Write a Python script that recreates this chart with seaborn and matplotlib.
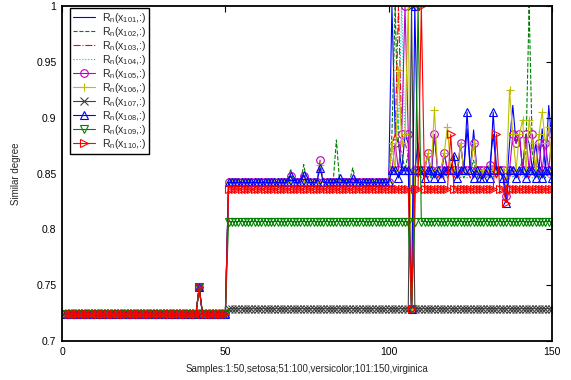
import matplotlib
matplotlib.use("Agg")
import matplotlib.pyplot as plt
import seaborn as sns
import pandas as pd

# ---------------- data ----------------
samples = list(range(1, 151))
x_ticks = [0, 50, 100, 150]
x_tick_labels = ["0", "50", "100", "150"]
y_ticks = [0.7, 0.75, 0.8, 0.85, 0.9, 0.95, 1.0]
y_tick_labels = ["0.7", "0.75", "0.8", "0.85", "0.9", "0.95", "1"]
series_ids = [101, 102, 103, 104, 105, 106, 107, 108, 109, 110]

# samples 1..50 (setosa): flat level with a bump at sample 42
setosa_level = 0.724
setosa_bump = {42: 0.748}
setosa_level_107 = 0.725

# samples 51..100 (versicolor): level per series + visible bumps
versi_level = {101: 0.842, 102: 0.842, 103: 0.842, 104: 0.842, 105: 0.842,
               106: 0.842, 107: 0.729, 108: 0.842, 109: 0.807, 110: 0.836}
versi_bumps = {
    102: {70: 0.854, 74: 0.858, 84: 0.880, 89: 0.855},
    105: {70: 0.848, 74: 0.848, 79: 0.862},
    106: {79: 0.858},
    108: {70: 0.848, 74: 0.849, 79: 0.855, 85: 0.846, 89: 0.846},
}

# samples 101..150 (virginica): values read per series
v101 = [1.000, 0.885, 0.877, 0.853, 0.885, 0.877, 0.729, 0.853, 0.877, 0.853,
        0.853, 0.868, 0.846, 0.885, 0.853, 0.846, 0.868, 0.853, 0.853, 0.866,
        0.846, 0.877, 0.853, 0.890, 0.853, 0.889, 0.853, 0.846, 0.853, 0.853,
        0.858, 0.885, 0.853, 0.853, 0.846, 0.835, 0.877, 0.911, 0.877, 0.885,
        0.853, 0.885, 0.877, 0.853, 0.877, 0.853, 0.890, 0.853, 0.911, 0.877]
v102 = [0.885, 1.000, 0.877, 0.868, 0.853, 0.868, 0.729, 0.853, 0.846, 0.853,
        0.846, 0.853, 0.846, 0.853, 0.846, 0.853, 0.853, 0.846, 0.853, 0.853,
        0.846, 0.853, 0.846, 0.853, 0.853, 0.862, 0.846, 0.853, 0.846, 0.853,
        0.846, 0.853, 0.846, 0.853, 0.846, 0.842, 0.853, 0.853, 0.846, 0.853,
        0.862, 0.868, 1.000, 0.868, 0.853, 0.846, 0.853, 0.846, 0.853, 0.846]
v103 = [0.877, 0.885, 1.000, 0.885, 0.877, 0.868, 0.729, 0.853, 0.846, 0.853,
        0.853, 0.846, 0.853, 0.853, 0.846, 0.853, 0.846, 0.853, 0.853, 0.846,
        0.853, 0.846, 0.853, 0.853, 0.846, 0.853, 0.853, 0.846, 0.853, 0.846,
        0.853, 0.853, 0.846, 0.853, 0.853, 0.842, 0.846, 0.853, 0.853, 0.846,
        0.853, 0.853, 0.846, 0.853, 0.853, 0.846, 0.853, 0.853, 0.846, 0.853]
v104 = [0.868, 0.877, 0.885, 1.000, 0.877, 0.868, 0.729, 0.853, 0.853, 0.846,
        0.853, 0.853, 0.846, 0.853, 0.853, 0.846, 0.853, 0.846, 0.853, 0.853,
        0.846, 0.853, 0.853, 0.846, 0.853, 0.853, 0.846, 0.853, 0.853, 0.846,
        0.853, 0.846, 0.853, 0.853, 0.846, 0.842, 0.853, 0.846, 0.853, 0.853,
        0.846, 0.853, 0.853, 0.846, 0.853, 0.853, 0.846, 0.853, 0.853, 0.846]
v105 = [0.853, 0.877, 0.853, 0.885, 1.000, 0.885, 0.729, 0.853, 0.853, 0.853,
        0.853, 0.868, 0.853, 0.885, 0.853, 0.853, 0.868, 0.853, 0.853, 0.853,
        0.853, 0.877, 0.853, 0.853, 0.853, 0.877, 0.853, 0.853, 0.853, 0.853,
        0.858, 0.853, 0.853, 0.853, 0.853, 0.830, 0.853, 0.885, 0.877, 0.885,
        0.853, 0.885, 0.853, 0.885, 0.853, 0.877, 0.853, 0.877, 0.853, 0.885]
v106 = [0.877, 0.853, 0.943, 0.877, 0.885, 1.000, 0.729, 0.853, 0.853, 0.853,
        0.853, 0.868, 0.853, 0.907, 0.853, 0.853, 0.868, 0.892, 0.853, 0.853,
        0.853, 0.877, 0.853, 0.853, 0.853, 0.877, 0.853, 0.846, 0.853, 0.853,
        0.858, 0.853, 0.853, 0.853, 0.853, 0.842, 0.925, 0.885, 0.853, 0.885,
        0.898, 0.853, 0.898, 0.877, 0.853, 0.885, 0.905, 0.877, 0.892, 0.853]
v107 = [0.729] * 6 + [1.000] + [0.729] * 43
v108 = [0.853, 0.853, 0.846, 0.853, 0.853, 0.853, 0.729, 1.000, 0.853, 0.853,
        0.846, 0.853, 0.853, 0.846, 0.853, 0.846, 0.853, 0.853, 0.853, 0.866,
        0.846, 0.853, 0.853, 0.905, 0.853, 0.846, 0.853, 0.846, 0.846, 0.853,
        0.846, 0.905, 0.853, 0.853, 0.846, 0.824, 0.853, 0.853, 0.846, 0.853,
        0.853, 0.846, 0.853, 0.853, 0.846, 0.853, 0.846, 0.853, 0.853, 0.846]
v109 = [0.807] * 6 + [0.729] + [0.807] + [1.000] + [0.807] * 41
v110 = ([0.836] * 6 + [0.729] + [0.836] * 2 + [1.000] + [0.836] * 8 + [0.885]
        + [0.836] * 13 + [0.885] + [0.836] * 2 + [0.824] + [0.836] * 14)
virginica = {101: v101, 102: v102, 103: v103, 104: v104, 105: v105,
             106: v106, 107: v107, 108: v108, 109: v109, 110: v110}

# ---------------- styles ----------------
styles = {
    101: dict(color=(0, 0, 1), linestyle="-", marker=None),
    102: dict(color=(0, 0.5, 0), linestyle="--", marker=None),
    103: dict(color=(1, 0, 0), linestyle="-.", marker=None),
    104: dict(color=(0, 0.75, 0.75), linestyle=":", marker=None),
    105: dict(color=(0.75, 0, 0.75), linestyle="-", marker="o"),
    106: dict(color=(0.75, 0.75, 0), linestyle="-", marker="+"),
    107: dict(color=(0.25, 0.25, 0.25), linestyle="-", marker="x"),
    108: dict(color=(0, 0, 1), linestyle="-", marker="^"),
    109: dict(color=(0, 0.5, 0), linestyle="-", marker="v"),
    110: dict(color=(1, 0, 0), linestyle="-", marker=">"),
}


def build_series(sid):
    base = setosa_level_107 if sid == 107 else setosa_level
    vals = [setosa_bump.get(n, base) for n in range(1, 51)]
    bumps = versi_bumps.get(sid, {})
    vals += [bumps.get(n, versi_level[sid]) for n in range(51, 101)]
    vals += list(virginica[sid])
    return vals


sns.set_theme(style="white")
plt.rcParams["font.family"] = ["Liberation Sans", "DejaVu Sans"]
plt.rcParams["mathtext.default"] = "regular"

fig = plt.figure(figsize=(5.71, 3.80), dpi=100)
ax = fig.add_axes([62 / 571, 1 - 341 / 380, 490 / 571, 335 / 380])

for sid in series_ids:
    st = styles[sid]
    df = pd.DataFrame({"sample": samples, "value": build_series(sid)})
    kw = dict(color=st["color"], linestyle=st["linestyle"], linewidth=0.8)
    if st["marker"] is not None:
        kw.update(marker=st["marker"], markersize=5.5, markerfacecolor="none",
                  markeredgecolor=st["color"], markeredgewidth=0.8)
    sns.lineplot(data=df, x="sample", y="value", ax=ax, estimator=None,
                 sort=False, label=r"R$_n$(x$_{%d}$,:)" % sid, **kw)

ax.set_xlim(0, 150)
ax.set_ylim(0.7, 1.0)
ax.set_xticks(x_ticks)
ax.set_xticklabels(x_tick_labels)
ax.set_yticks(y_ticks)
ax.set_yticklabels(y_tick_labels)
ax.tick_params(direction="in", top=True, right=True, length=4, width=0.8,
               labelsize=7.5, colors="black", pad=4)
for s in ax.spines.values():
    s.set_linewidth(1.3)
    s.set_color("black")
ax.set_xlabel("Samples:1:50,setosa;51:100,versicolor;101:150,virginica",
              fontsize=7, labelpad=5)
ax.set_ylabel("Similar degree", fontsize=7, labelpad=11)

leg = ax.legend(loc="upper left", bbox_to_anchor=(0.016, 0.994),
                borderaxespad=0, fontsize=7.6, frameon=True, fancybox=False,
                handlelength=2.1, labelspacing=0.0, borderpad=0.3,
                handletextpad=0.6)
leg.get_frame().set_edgecolor("black")
leg.get_frame().set_linewidth(1.0)
leg.get_frame().set_alpha(1)

fig.savefig("out.png", dpi=100)
